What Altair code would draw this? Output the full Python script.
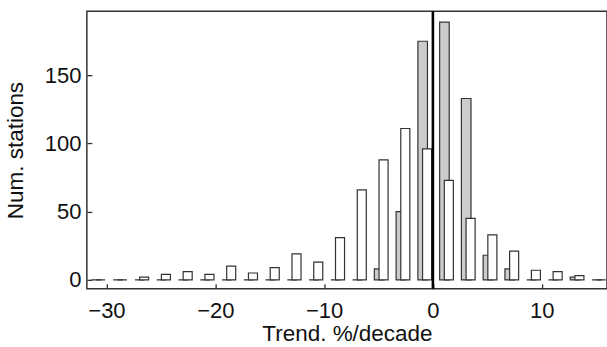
import altair as alt
import pandas as pd

# Bin (group) centres, % per decade
centers = [-30.75, -28.75, -26.75, -24.75, -22.75, -20.75, -18.75, -16.75,
           -14.75, -12.75, -10.75, -8.75, -6.75, -4.75, -2.75, -0.75,
           1.25, 3.25, 5.25, 7.25, 9.25, 11.25, 13.25, 15.25]
# Grey series counts
gray_counts = [0, 0, 0, 0, 0, 0, 0, 0, 0, 0, 0, 0, 0,
               8, 50, 175, 189, 133, 18, 8, 0, 0, 2, 0]
# White series counts
white_counts = [0, 0, 2, 4, 6, 4, 10, 5, 9, 19, 13, 31, 66,
                88, 111, 96, 73, 45, 33, 21, 7, 6, 3, 0]

x_ticks = [-30, -20, -10, 0, 10]
y_ticks = [0, 50, 100, 150]

df = pd.DataFrame({"c": centers, "gray": gray_counts, "white": white_counts})

FONT = "Liberation Sans"
STROKE = "#333333"

xs = alt.Scale(domain=[-31.8, 16.0], nice=False, zero=False)
ys = alt.Scale(domain=[-6.6, 197], nice=False, zero=False)

x_axis = alt.Axis(values=x_ticks, grid=False, domain=False, offset=-5,
                  tickSize=5, tickColor=STROKE, tickWidth=1.3,
                  labelPadding=12, labelFontSize=22, labelFont=FONT,
                  labelColor="#111", title="Trend. %/decade",
                  titleFontSize=22.5, titleFont=FONT, titleFontWeight="normal",
                  titleColor="#111", titlePadding=1)
y_axis = alt.Axis(values=y_ticks, grid=False, domain=False, offset=-5,
                  tickSize=5, tickColor=STROKE, tickWidth=1.3,
                  labelPadding=6, labelFontSize=22, labelFont=FONT,
                  labelColor="#111", title="Num. stations",
                  titleFontSize=22.5, titleFont=FONT, titleFontWeight="normal",
                  titleColor="#111", titlePadding=17)

base = alt.Chart(df)

gray = base.transform_calculate(
    lo="datum.c - 0.63", hi="datum.c + 0.25"
).mark_rect(fill="#cccccc", stroke=STROKE, strokeWidth=1.2).encode(
    x=alt.X("lo:Q", scale=xs, axis=x_axis),
    x2="hi:Q",
    y=alt.Y("gray:Q", scale=ys, axis=y_axis),
    y2=alt.datum(0),
)

white = base.transform_calculate(
    lo="datum.c - 0.2", hi="datum.c + 0.63"
).mark_rect(fill="white", stroke=STROKE, strokeWidth=1.2).encode(
    x=alt.X("lo:Q", scale=xs),
    x2="hi:Q",
    y=alt.Y("white:Q", scale=ys),
    y2=alt.datum(0),
)

zero_line = alt.Chart(pd.DataFrame({"z": [0]})).mark_rule(
    color="black", strokeWidth=2.6
).encode(x=alt.X("z:Q", scale=xs))

chart = alt.layer(gray, white, zero_line).properties(
    width=521, height=278,
    background="white",
    autosize=alt.AutoSizeParams(type="none"),
    padding={"left": 87, "top": 11, "right": 0, "bottom": 58},
).configure_view(
    stroke=STROKE, strokeWidth=1.5
)

chart.save("out.html", embed_options={"renderer": "svg", "actions": False})
